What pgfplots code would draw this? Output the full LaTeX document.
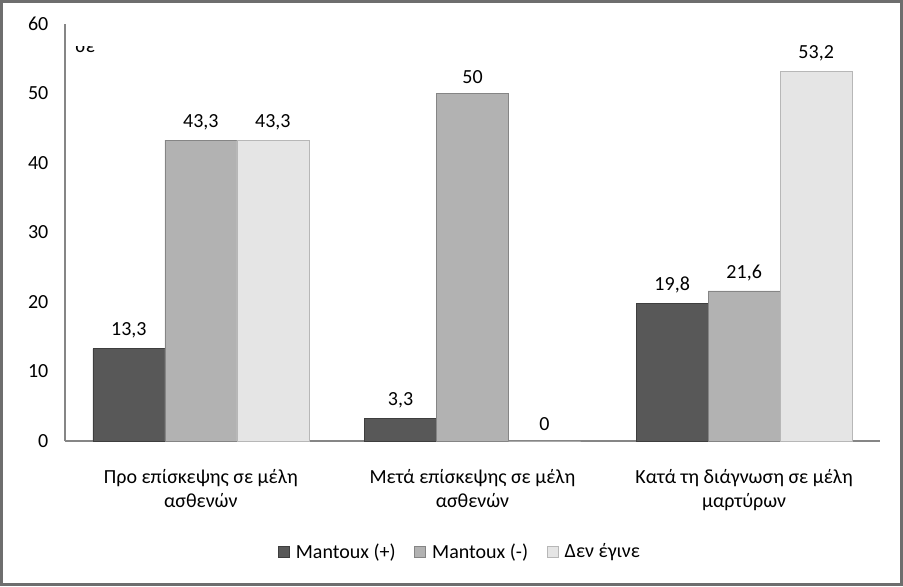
\documentclass[border=0pt]{standalone}
\usepackage{pgfplots}
\pgfplotsset{compat=1.18}
\usepackage{fontspec}
\setmainfont{Carlito}
\definecolor{axisgray}{RGB}{134,134,134}
\definecolor{framegray}{RGB}{110,110,110}
\definecolor{bardark}{RGB}{88,88,88}
\definecolor{barmid}{RGB}{178,178,178}
\definecolor{barlight}{RGB}{229,229,229}
\begin{document}
\begin{tikzpicture}
\begin{axis}[
    scale only axis,
    width=611.25pt, height=312.75pt,
    ybar=0pt, bar width=54pt,
    xmin=-0.5, xmax=2.5,
    ymin=0, ymax=60,
    xtick={0,1,2},
    xticklabels={{Προ επίσκεψης σε μέλη\\ασθενών},{Μετά επίσκεψης σε μέλη\\ασθενών},{Κατά τη διάγνωση σε μέλη\\μαρτύρων}},
    ytick={0,10,...,60},
    major tick length=0pt,
    separate axis lines,
    axis x line=bottom, axis y line=left,
    axis line style={-, draw=axisgray, line width=0.8pt},
    /pgf/number format/assume math mode=true,
    /pgf/number format/use comma,
    tick label style={font=\fontsize{15pt}{18pt}\selectfont},
    xticklabel style={align=center, yshift=-18pt},
    yticklabel style={xshift=-9pt},
    nodes near coords,
    every node near coord/.append style={font=\fontsize{15pt}{17pt}\selectfont, yshift=4pt},
    legend columns=3,
    legend style={draw=none, fill=none, at={(rel axis cs:0.485,-0.266)}, anchor=center,
        font=\fontsize{15pt}{17pt}\selectfont,
        /tikz/every odd column/.append style={column sep=3pt},
        /tikz/every even column/.append style={column sep=12pt}},
    legend image code/.code={\fill[#1] (0pt,-4pt) rectangle (8pt,4pt);},
    clip=false,
]
\addplot[fill=bardark, draw=bardark!70!black] coordinates {(0,13.3) (1,3.3) (2,19.8)};
\addplot[fill=barmid, draw=barmid!75!black] coordinates {(0,43.3) (1,50) (2,21.6)};
\addplot[fill=barlight, draw=barlight!80!black] coordinates {(0,43.3) (1,0) (2,53.2)};
\legend{Mantoux (+), Mantoux (-), Δεν έγινε}
\coordinate (O) at (rel axis cs:0,0);
\end{axis}
\begin{scope}
\clip ([shift={(0pt,0pt)}]O) rectangle ([shift={(100pt,296pt)}]O);
\node[anchor=base west, inner sep=0pt, font=\fontsize{15pt}{17pt}\selectfont] at ([shift={(7.5pt,291pt)}]O) {σε};
\end{scope}
\draw[framegray, line width=2.25pt] ([shift={(-47.625pt,-107.625pt)}]O) rectangle ([shift={(627.375pt,329.625pt)}]O);
\pgfresetboundingbox
\path[use as bounding box] ([shift={(-48.75pt,-108.75pt)}]O) rectangle ([shift={(628.5pt,330.75pt)}]O);
\end{tikzpicture}
\end{document}
